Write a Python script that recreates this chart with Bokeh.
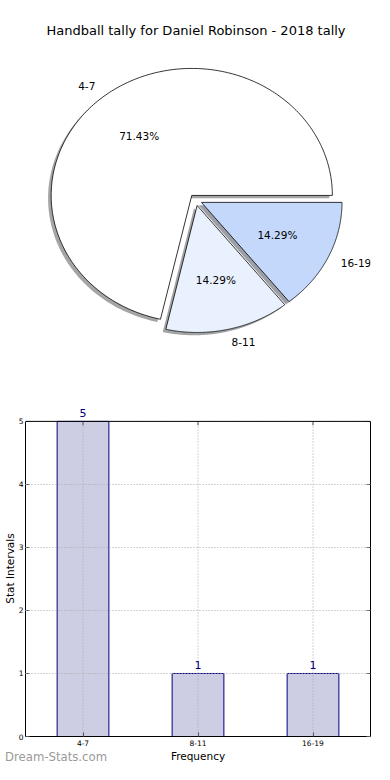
import numpy as np
from bokeh.plotting import figure
from bokeh.layouts import column
from bokeh.models import (Range1d, FactorRange, LinearAxis, FixedTicker, Span,
                          LabelSet, ColumnDataSource, Div)
from bokeh.core.properties import value
from bokeh.embed import file_html
from bokeh.resources import INLINE

# ---------------- data ----------------
chart_title = "Handball tally for Daniel Robinson - 2018 tally"
categories = ["4-7", "8-11", "16-19"]
counts = [5, 1, 1]
pie_colors = ["#ffffff", "#eaf1fe", "#c4d8fc"]
y_ticks = [0, 1, 2, 3, 4, 5]
x_label = "Frequency"
y_label = "Stat Intervals"
watermark = "Dream-Stats.com"

FONT = "DejaVu Sans"
W = 374
FL, FR = 24, 370          # shared frame left / right (canvas px)

# ---------------- pie ----------------
PIE_H = 376
cx_pix, cy_pix = 194.7, 199.4   # pie centre (canvas px)
rx, ry = 141.0, 127.0           # pixels per radius unit
pie = figure(width=W, height=PIE_H,
             x_range=Range1d((FL - cx_pix) / rx, (FR - cx_pix) / rx),
             y_range=Range1d(-(PIE_H - cy_pix) / ry, cy_pix / ry),
             output_backend="svg", toolbar_location=None,
             min_border_left=FL, min_border_right=W - FR, min_border_top=0, min_border_bottom=0,
             x_axis_location=None, y_axis_location=None)
pie.xgrid.visible = False
pie.ygrid.visible = False
pie.outline_line_color = None
pie.background_fill_color = "white"
pie.border_fill_color = "white"

vals = np.array(counts, dtype=float)
fracs = vals / vals.sum()
explode = 0.045
shadow_off = (-0.022, -0.022)

wx, wy, sx, sy, scol = [], [], [], [], []
label_info, pct_info = [], []
start = 0.0
for f, col, cat in zip(fracs, pie_colors, categories):
    t1, t2 = start, start + 360.0 * f
    mid = np.deg2rad((t1 + t2) / 2.0)
    ox, oy = explode * np.cos(mid), explode * np.sin(mid)
    t = np.deg2rad(np.linspace(t1, t2, 240))
    px = np.concatenate([[ox], ox + np.cos(t), [ox]])
    py = np.concatenate([[oy], oy + np.sin(t), [oy]])
    wx.append(list(px)); wy.append(list(py))
    sx.append(list(px + shadow_off[0])); sy.append(list(py + shadow_off[1]))
    r = int(col[1:3], 16); g = int(col[3:5], 16); b = int(col[5:7], 16)
    scol.append("#%02x%02x%02x" % (int(r * 0.3), int(g * 0.3), int(b * 0.3)))
    lx, ly = ox + 1.1 * np.cos(mid), oy + 1.1 * np.sin(mid)
    label_info.append((lx, ly, cat, "right" if lx < 0 else "left"))
    pct_info.append((ox + 0.6 * np.cos(mid), oy + 0.6 * np.sin(mid), "%.2f%%" % (f * 100)))
    start = t2

pie.patches(xs=sx, ys=sy, fill_color=scol, fill_alpha=0.5, line_color=None)
pie.patches(xs=wx, ys=wy, fill_color=pie_colors, line_color="black", line_width=0.8)

for lx, ly, cat, al in label_info:
    pie.text(x=[lx], y=[ly], text=[cat], text_align=al, text_baseline="middle",
             text_font=value(FONT), text_font_size="10.5px", text_color="black")
pie.text(x=[p[0] for p in pct_info], y=[p[1] for p in pct_info], text=[p[2] for p in pct_info],
         text_align="center", text_baseline="middle",
         text_font=value(FONT), text_font_size="10.5px", text_color="black")

pie.text(x=[(195 - cx_pix) / rx], y=[(cy_pix - 30) / ry], text=[chart_title],
         text_align="center", text_baseline="middle",
         text_font=value(FONT), text_font_size="13px", text_color="black")

# ---------------- bar ----------------
BAR_H = 764 - PIE_H
Y_MAX = y_ticks[-1]
frame_top_c, y5_c, y0_c = 400, 421, 738      # canvas px (absolute)
px_per_unit = (y0_c - y5_c) / Y_MAX
y_top = Y_MAX + (y5_c - frame_top_c) / px_per_unit

bar = figure(width=W, height=BAR_H,
             x_range=FactorRange(factors=categories, range_padding=0),
             y_range=Range1d(0, y_top),
             output_backend="svg", toolbar_location=None,
             min_border_left=FL, min_border_right=W - FR,
             min_border_top=frame_top_c - PIE_H, min_border_bottom=764 - y0_c)
bar.outline_line_color = None
bar.background_fill_color = "white"
bar.border_fill_color = "white"
bar.xgrid.visible = False

bar.vbar(x=categories, top=counts, width=0.45, fill_color="#cdcde3",
         line_color="#000080", line_width=1)

# vertical dotted grid lines at the categories (drawn above the bars, up to the top border)
bar.segment(x0=categories, y0=[0] * len(categories), x1=categories, y1=[Y_MAX] * len(categories),
            line_color="#a8a8a8", line_dash="1 2", line_width=1)
# inward tick marks on the top border
tick_len = 4 / px_per_unit
bar.segment(x0=categories, y0=[Y_MAX] * len(categories), x1=categories,
            y1=[Y_MAX - tick_len] * len(categories), line_color="#555555", line_width=1)

bar.ygrid.ticker = FixedTicker(ticks=y_ticks)
bar.ygrid.grid_line_color = "#a8a8a8"
bar.ygrid.grid_line_dash = "1 2"
bar.ygrid.level = "annotation"

# top border of the plot box
bar.add_layout(Span(location=Y_MAX, dimension="width", line_color="black", line_width=1))

src = ColumnDataSource(dict(x=categories, top=counts, label=[str(c) for c in counts]))
bar.add_layout(LabelSet(x="x", y="top", text="label", source=src, y_offset=4,
                        text_align="center", text_baseline="bottom",
                        text_font=value(FONT), text_font_size="11px", text_color="#000080"))

for ax in bar.yaxis:
    ax.ticker = FixedTicker(ticks=y_ticks)
    ax.bounds = (0, Y_MAX)
    ax.major_tick_in = 4
    ax.major_tick_out = 0
    ax.minor_tick_in = 0
    ax.minor_tick_out = 0
    ax.major_tick_line_color = "#555555"
    ax.major_label_standoff = 2
    ax.major_label_text_font = FONT
    ax.major_label_text_font_size = "7.5px"
    ax.major_label_text_color = "black"
    ax.axis_label = y_label
    ax.axis_label_text_font = FONT
    ax.axis_label_text_font_size = "10.5px"
    ax.axis_label_text_font_style = "normal"
    ax.axis_label_text_color = "black"
    ax.axis_label_standoff = 0
    ax.axis_line_color = "black"

for ax in bar.xaxis:
    ax.major_tick_in = 4
    ax.major_tick_out = 0
    ax.major_tick_line_color = "#555555"
    ax.major_label_standoff = 3
    ax.major_label_text_font = FONT
    ax.major_label_text_font_size = "7.5px"
    ax.major_label_text_color = "black"
    ax.axis_label = x_label
    ax.axis_label_text_font = FONT
    ax.axis_label_text_font_size = "10.5px"
    ax.axis_label_text_font_style = "normal"
    ax.axis_label_text_color = "black"
    ax.axis_label_standoff = 1
    ax.axis_line_color = "black"

right_ax = LinearAxis(ticker=FixedTicker(ticks=y_ticks), bounds=(0, Y_MAX),
                      major_tick_in=4, major_tick_out=0, major_tick_line_color="#555555",
                      minor_tick_in=0, minor_tick_out=0, major_label_standoff=0,
                      major_label_text_font_size="1px", major_label_text_alpha=0,
                      axis_line_color="black")
bar.add_layout(right_ax, "right")

mark = Div(text=watermark, width=120, height=14,
           styles={"margin-top": "-14px", "font-family": FONT, "font-size": "11.7px",
                   "color": "#9a9a9a", "line-height": "14px", "white-space": "nowrap"})

layout = column(pie, bar, mark, spacing=0)
open("out.html", "w").write(file_html(layout, INLINE))
